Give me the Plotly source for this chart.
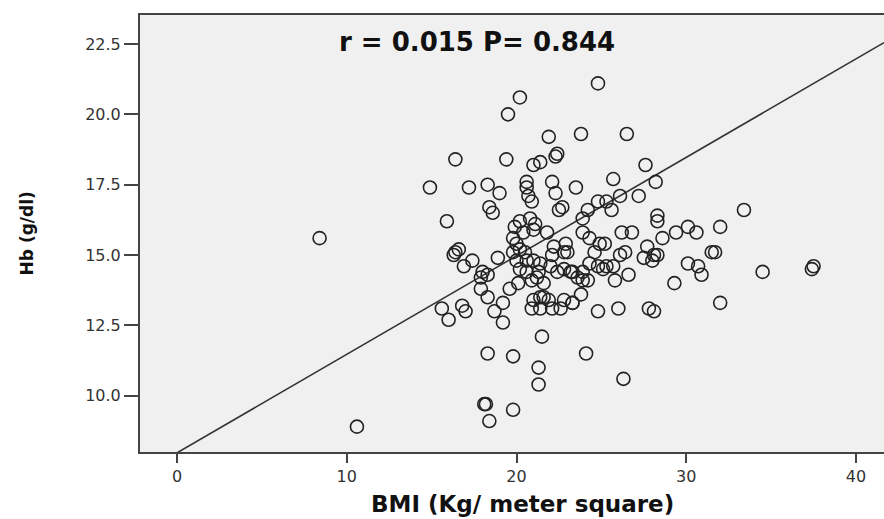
import plotly.graph_objects as go

# BMI (x) and Hb (y) values
bmi = [24.8, 20.2, 19.5, 21.9, 23.8, 26.5, 22.4, 22.3, 21.4, 21.0,
       19.4, 16.4, 14.9, 17.2, 18.3, 19.0, 20.6, 20.6, 20.7, 20.9,
       22.1, 22.3, 23.5, 18.4, 18.6, 22.5, 22.7, 15.9, 20.2, 20.8,
       21.1, 25.7, 27.6, 28.2, 26.1, 27.2, 24.8, 25.3, 24.2, 25.6,
       23.9, 28.3, 28.3, 33.4, 30.1, 32.0, 30.6, 29.4, 28.6, 23.9,
       24.3, 24.9, 26.2, 26.8, 31.5, 31.7, 22.9, 23.0, 27.7, 28.1,
       28.3, 27.5, 26.1, 24.6, 25.2, 28.0, 30.1, 30.7, 30.9, 29.3,
       34.5, 37.4, 37.5, 32.0, 23.8, 23.3, 24.8, 26.0, 27.8, 28.1,
       24.1, 26.3, 23.2, 23.9, 23.9, 25.1, 24.8, 25.8, 26.6, 25.7,
       22.6, 10.6, 8.4, 18.3, 19.8, 21.5, 21.3, 21.3, 18.1, 18.2,
       19.8, 18.4, 15.6, 16.0, 16.8, 17.0, 17.9, 18.3, 18.7, 19.2,
       19.2, 19.6, 21.0, 21.4, 21.6, 20.9, 21.4, 22.1, 22.8, 23.3,
       16.9, 17.4, 17.9, 18.3, 18.0, 18.9, 19.8, 20.6, 21.0, 21.4,
       20.2, 20.6, 21.2, 21.6, 20.1, 20.9, 22.4, 22.8, 23.3, 22.1,
       22.8, 16.3, 16.4, 16.6, 19.8, 19.9, 20.4, 21.0, 21.8, 20.0,
       20.2, 20.5, 22.2, 26.4, 20.0, 22.0, 23.6, 24.2, 24.3, 25.3,
       21.3, 21.9]
hb = [21.1, 20.6, 20.0, 19.2, 19.3, 19.3, 18.6, 18.5, 18.3, 18.2,
      18.4, 18.4, 17.4, 17.4, 17.5, 17.2, 17.6, 17.4, 17.1, 16.9,
      17.6, 17.2, 17.4, 16.7, 16.5, 16.6, 16.7, 16.2, 16.2, 16.3,
      16.1, 17.7, 18.2, 17.6, 17.1, 17.1, 16.9, 16.9, 16.6, 16.6,
      16.3, 16.4, 16.2, 16.6, 16.0, 16.0, 15.8, 15.8, 15.6, 15.8,
      15.6, 15.4, 15.8, 15.8, 15.1, 15.1, 15.4, 15.1, 15.3, 15.0,
      15.0, 14.9, 15.0, 15.1, 15.4, 14.8, 14.7, 14.6, 14.3, 14.0,
      14.4, 14.5, 14.6, 13.3, 13.6, 13.3, 13.0, 13.1, 13.1, 13.0,
      11.5, 10.6, 14.4, 14.4, 14.1, 14.5, 14.6, 14.1, 14.3, 14.6,
      13.1, 8.9, 15.6, 11.5, 11.4, 12.1, 11.0, 10.4, 9.7, 9.7,
      9.5, 9.1, 13.1, 12.7, 13.2, 13.0, 13.8, 13.5, 13.0, 12.6,
      13.3, 13.8, 13.4, 13.5, 13.5, 13.1, 13.1, 13.1, 13.4, 13.3,
      14.6, 14.8, 14.2, 14.3, 14.4, 14.9, 15.1, 14.8, 14.8, 14.7,
      14.5, 14.4, 14.2, 14.0, 14.0, 14.1, 14.4, 14.5, 14.4, 15.0,
      15.1, 15.0, 15.1, 15.2, 15.6, 16.0, 15.8, 15.9, 15.8, 15.4,
      15.2, 15.1, 15.3, 15.1, 14.8, 14.6, 14.2, 14.1, 14.7, 14.6,
      14.4, 13.4]

# Reference line shown in the chart
line_intercept = 7.97
line_slope = 0.350
line_x = [0, 41.65]
line_y = [line_intercept + line_slope * v for v in line_x]

stat_text = "r = 0.015 P= 0.844"
x_title = "BMI (Kg/ meter square)"
y_title = "Hb (g/dl)"
x_ticks = [0, 10, 20, 30, 40]
y_ticks = [10.0, 12.5, 15.0, 17.5, 20.0, 22.5]

fig = go.Figure()
fig.add_trace(go.Scatter(
    x=line_x, y=line_y, mode="lines",
    line=dict(color="#333333", width=1.6), hoverinfo="skip", showlegend=False))
fig.add_trace(go.Scatter(
    x=bmi, y=hb, mode="markers",
    marker=dict(symbol="circle-open", size=13, color="#222222",
                line=dict(color="#222222", width=1.6)),
    showlegend=False))

fig.update_layout(
    width=884, height=519,
    margin=dict(l=140, r=0, t=15, b=67),
    paper_bgcolor="white", plot_bgcolor="#f0f0f0",
    font=dict(family="DejaVu Sans", color="#333333"),
    xaxis=dict(range=[-2.18, 41.65], tickvals=x_ticks,
               ticktext=[str(v) for v in x_ticks],
               showgrid=False, zeroline=False,
               showline=True, linecolor="#444444", linewidth=2, mirror=True,
               ticks="outside", ticklen=9, tickwidth=2, tickcolor="#444444",
               tickfont=dict(size=16, color="#333333")),
    yaxis=dict(range=[8.0, 23.53], tickvals=y_ticks,
               ticktext=["%.1f" % v for v in y_ticks],
               showgrid=False, zeroline=False,
               showline=True, linecolor="#444444", linewidth=2, mirror=False,
               ticks="outside", ticklen=14, tickwidth=2, tickcolor="#444444",
               tickfont=dict(size=16, color="#333333")),
    annotations=[
        dict(text="<b>" + stat_text + "</b>", xref="paper", yref="paper",
             x=0.453, y=0.938, xanchor="center", yanchor="middle",
             showarrow=False, font=dict(size=26, color="#111111")),
        dict(text="<b>" + x_title + "</b>", xref="paper", yref="paper",
             x=0.514, y=-0.119, xanchor="center", yanchor="middle",
             showarrow=False, font=dict(size=23, color="#111111")),
        dict(text="<b>" + y_title + "</b>", xref="paper", yref="paper",
             x=-0.152, y=0.5, xanchor="center", yanchor="middle",
             textangle=-90, showarrow=False,
             font=dict(size=17, color="#111111")),
    ],
)

fig.write_html(
    "out.html",
    config={"displayModeBar": False},
    post_script="document.body.style.margin='0px';"
                "document.body.style.overflow='hidden';")
